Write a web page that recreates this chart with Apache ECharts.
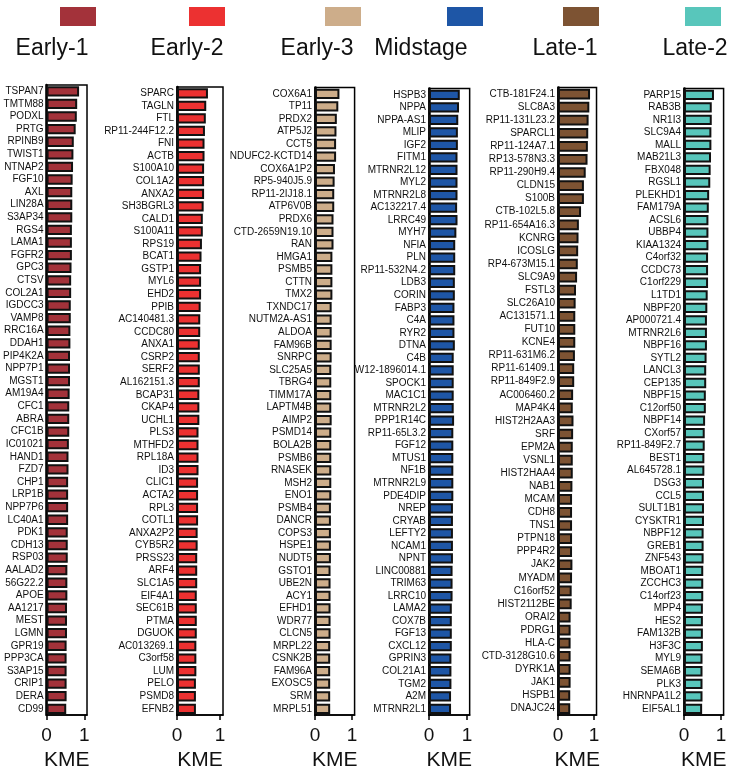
<!DOCTYPE html>
<html>
<head>
<meta charset="utf-8">
<script src="https://cdn.jsdelivr.net/npm/echarts@6/dist/echarts.min.js"></script>
<style>
  html, body { margin: 0; padding: 0; background: #fff; }
  #chart { width: 736px; height: 776px; }
</style>
</head>
<body>
<div id="chart"></div>
<script>
// Module names and colours
const modules = ['Early-1', 'Early-2', 'Early-3', 'Midstage', 'Late-1', 'Late-2'];
const moduleColors = ['#a3323a', '#ec3131', '#cdad8a', '#1e56a6', '#7d5333', '#58c6bb'];

// Hub genes per module (top to bottom) and their module membership (KME)
const early1Genes = ['TSPAN7','TMTM88','PODXL','PRTG','RPINB9','TWIST1','NTNAP2','FGF10','AXL','LIN28A','S3AP34','RGS4','LAMA1','FGFR2','GPC3','CTSV','COL2A1','IGDCC3','VAMP8','RRC16A','DDAH1','PIP4K2A','NPP7P1','MGST1','AM19A4','CFC1','ABRA','CFC1B','IC01021','HAND1','FZD7','CHP1','LRP1B','NPP7P6','LC40A1','PDK1','CDH13','RSP03','AALAD2','56G22.2','APOE','AA1217','MEST','LGMN','GPR19','PPP3CA','S3AP15','CRIP1','DERA','CD99'];
const early1KME = [0.86,0.81,0.80,0.77,0.72,0.71,0.70,0.69,0.68,0.68,0.68,0.67,0.67,0.67,0.66,0.65,0.65,0.64,0.64,0.63,0.63,0.62,0.62,0.62,0.61,0.60,0.60,0.60,0.59,0.58,0.58,0.57,0.57,0.57,0.57,0.56,0.56,0.56,0.55,0.55,0.55,0.54,0.54,0.54,0.53,0.53,0.53,0.53,0.53,0.52];

const early2Genes = ['SPARC','TAGLN','FTL','RP11-244F12.2','FNI','ACTB','S100A10','COL1A2','ANXA2','SH3BGRL3','CALD1','S100A11','RPS19','BCAT1','GSTP1','MYL6','EHD2','PPIB','AC140481.3','CCDC80','ANXA1','CSRP2','SERF2','AL162151.3','BCAP31','CKAP4','UCHL1','PLS3','MTHFD2','RPL18A','ID3','CLIC1','ACTA2','RPL3','COTL1','ANXA2P2','CYB5R2','PRSS23','ARF4','SLC1A5','EIF4A1','SEC61B','PTMA','DGUOK','AC013269.1','C3orf58','LUM','PELO','PSMD8','EFNB2'];
const early2KME = [0.72,0.68,0.67,0.65,0.64,0.64,0.63,0.63,0.63,0.62,0.60,0.60,0.58,0.57,0.56,0.56,0.56,0.55,0.54,0.54,0.53,0.53,0.53,0.53,0.52,0.52,0.52,0.50,0.50,0.50,0.50,0.49,0.49,0.49,0.49,0.48,0.48,0.47,0.47,0.47,0.46,0.46,0.46,0.46,0.45,0.45,0.45,0.44,0.44,0.44];

const early3Genes = ['COX6A1','TP11','PRDX2','ATP5J2','CCT5','NDUFC2-KCTD14','COX6A1P2','RP5-940J5.9','RP11-2IJ18.1','ATP6V0B','PRDX6','CTD-2659N19.10','RAN','HMGA1','PSMB5','CTTN','TMX2','TXNDC17','NUTM2A-AS1','ALDOA','FAM96B','SNRPC','SLC25A5','TBRG4','TIMM17A','LAPTM4B','AIMP2','PSMD14','BOLA2B','PSMB6','RNASEK','MSH2','ENO1','PSMB4','DANCR','COPS3','HSPE1','NUDT5','GSTO1','UBE2N','ACY1','EFHD1','WDR77','CLCN5','MRPL22','CSNK2B','FAM96A','EXOSC5','SRM','MRPL51'];
const early3KME = [0.66,0.63,0.59,0.58,0.57,0.57,0.54,0.53,0.52,0.52,0.50,0.50,0.50,0.47,0.47,0.47,0.47,0.45,0.45,0.45,0.45,0.45,0.44,0.44,0.44,0.44,0.45,0.44,0.44,0.44,0.44,0.44,0.44,0.43,0.43,0.43,0.43,0.43,0.42,0.42,0.42,0.42,0.42,0.42,0.41,0.41,0.41,0.41,0.41,0.41];

const midGenes = ['HSPB3','NPPA','NPPA-AS1','MLIP','IGF2','FITM1','MTRNR2L12','MYL2','MTRNR2L8','AC132217.4','LRRC49','MYH7','NFIA','PLN','RP11-532N4.2','LDB3','CORIN','FABP3','C4A','RYR2','DTNA','C4B','W12-1896014.1','SPOCK1','MAC1C1','MTRNR2L2','PPP1R14C','RP11-65L3.2','FGF12','MTUS1','NF1B','MTRNR2L9','PDE4DIP','NREP','CRYAB','LEFTY2','NCAM1','NPNT','LINC00881','TRIM63','LRRC10','LAMA2','COX7B','FGF13','CXCL12','GPRIN3','COL21A1','TGM2','A2M','MTRNR2L1'];
const midKME = [0.81,0.79,0.77,0.76,0.76,0.75,0.75,0.75,0.75,0.74,0.75,0.72,0.69,0.69,0.69,0.68,0.68,0.67,0.67,0.67,0.68,0.65,0.65,0.65,0.65,0.65,0.66,0.64,0.64,0.64,0.64,0.64,0.64,0.63,0.63,0.63,0.63,0.63,0.62,0.62,0.62,0.60,0.60,0.60,0.60,0.59,0.59,0.59,0.58,0.58];

const late1Genes = ['CTB-181F24.1','SLC8A3','RP11-131L23.2','SPARCL1','RP11-124A7.1','RP13-578N3.3','RP11-290H9.4','CLDN15','S100B','CTB-102L5.8','RP11-654A16.3','KCNRG','ICOSLG','RP4-673M15.1','SLC9A9','FSTL3','SLC26A10','AC131571.1','FUT10','KCNE4','RP11-631M6.2','RP11-61409.1','RP11-849F2.9','AC006460.2','MAP4K4','HIST2H2AA3','SRF','EPM2A','VSNL1','HIST2HAA4','NAB1','MCAM','CDH8','TNS1','PTPN18','PPP4R2','JAK2','MYADM','C16orf52','HIST2112BE','ORAI2','PDRG1','HLA-C','CTD-3128G10.6','DYRK1A','JAK1','HSPB1','DNAJC24'];
const late1KME = [0.89,0.87,0.85,0.84,0.83,0.82,0.77,0.72,0.72,0.64,0.58,0.57,0.56,0.55,0.53,0.50,0.49,0.48,0.48,0.48,0.47,0.45,0.45,0.42,0.41,0.43,0.42,0.41,0.41,0.41,0.40,0.39,0.39,0.39,0.39,0.39,0.40,0.39,0.38,0.38,0.35,0.35,0.35,0.35,0.35,0.35,0.34,0.34];

const late2Genes = ['PARP15','RAB3B','NR1I3','SLC9A4','MALL','MAB21L3','FBX048','RGSL1','PLEKHD1','FAM179A','ACSL6','UBBP4','KIAA1324','C4orf32','CCDC73','C1orf229','L1TD1','NBPF20','AP000721.4','MTRNR2L6','NBPF16','SYTL2','LANCL3','CEP135','NBPF15','C12orf50','NBPF14','CXorf57','RP11-849F2.7','BEST1','AL645728.1','DSG3','CCL5','SULT1B1','CYSKTR1','NBPF12','GREB1','ZNF543','MBOAT1','ZCCHC3','C14orf23','MPP4','HES2','FAM132B','H3F3C','MYL9','SEMA6B','PLK3','HNRNPA1L2','EIF5AL1'];
const late2KME = [0.81,0.75,0.75,0.74,0.74,0.73,0.72,0.71,0.68,0.67,0.66,0.66,0.66,0.65,0.65,0.65,0.64,0.63,0.62,0.62,0.62,0.61,0.60,0.60,0.59,0.59,0.57,0.56,0.56,0.55,0.55,0.54,0.54,0.54,0.54,0.53,0.53,0.53,0.52,0.52,0.52,0.51,0.51,0.51,0.51,0.50,0.50,0.50,0.50,0.49];

// KME axis ticks
const kmeTicks = [0, 1];
const kmeMax = 1.07;

const panels = [
  { genes: early1Genes, kme: early1KME },
  { genes: early2Genes, kme: early2KME },
  { genes: early3Genes, kme: early3KME },
  { genes: midGenes, kme: midKME },
  { genes: late1Genes, kme: late1KME },
  { genes: late2Genes, kme: late2KME }
];

// Panel boxes: left edge at KME = 0, pixel length of one KME unit, top and bottom of the box
const boxes = [
  { left: 41,  unit: 43, top: 85,  bottom: 722 },
  { left: 177, unit: 43, top: 87,  bottom: 722 },
  { left: 315, unit: 37, top: 87.5, bottom: 720 },
  { left: 429, unit: 38, top: 88.5, bottom: 722 },
  { left: 558, unit: 36, top: 87.5, bottom: 722.5 },
  { left: 684, unit: 37, top: 88.5, bottom: 720 }
];

// Legend swatches and module titles above each panel
const headers = [
  { sx: 60,  tx: 52 },
  { sx: 189, tx: 187 },
  { sx: 325, tx: 317 },
  { sx: 447, tx: 421 },
  { sx: 563, tx: 565 },
  { sx: 685, tx: 695 }
];

const labelFont = '"Liberation Sans", Arial, sans-serif';
const mainFont = '"Liberation Sans", Arial, sans-serif';

const grid = [], xAxis = [], yAxis = [], series = [], graphic = [];

panels.forEach((p, i) => {
  const b = boxes[i];
  grid.push({
    left: b.left,
    top: b.top,
    width: b.unit * kmeMax,
    height: b.bottom - b.top,
    show: true,
    borderColor: '#000',
    borderWidth: 1.5,
    containLabel: false
  });
  xAxis.push({
    gridIndex: i,
    type: 'value',
    min: 0,
    max: kmeMax,
    interval: 1,
    name: 'KME',
    nameLocation: 'middle',
    nameGap: 32,
    nameTextStyle: { fontSize: 21, color: '#111', fontFamily: mainFont },
    axisLine: { show: true, lineStyle: { color: '#000', width: 1.5 } },
    axisTick: { show: true, length: 5, lineStyle: { color: '#000', width: 1.5 }, customValues: kmeTicks },
    axisLabel: { fontSize: 19, color: '#111', fontFamily: mainFont, margin: 11, customValues: kmeTicks },
    splitLine: { show: false }
  });
  yAxis.push({
    gridIndex: i,
    type: 'category',
    inverse: true,
    data: p.genes,
    axisLine: { show: true, lineStyle: { color: '#000', width: 2.5 } },
    axisTick: { show: false },
    axisLabel: { fontSize: 10, color: '#111', fontFamily: labelFont, margin: 3, interval: 0 },
    splitLine: { show: false }
  });
  series.push({
    type: 'bar',
    name: modules[i],
    xAxisIndex: i,
    yAxisIndex: i,
    data: p.kme,
    barCategoryGap: '18%',
    itemStyle: { color: moduleColors[i], borderColor: '#111', borderWidth: 2 },
    silent: true,
    animation: false
  });
  const h = headers[i];
  graphic.push({
    type: 'rect',
    shape: { x: h.sx, y: 7, width: 36, height: 19 },
    style: { fill: moduleColors[i] }
  });
  graphic.push({
    type: 'text',
    x: h.tx,
    y: 49,
    style: {
      text: modules[i],
      fontSize: 23,
      fontFamily: mainFont,
      fill: '#111',
      align: 'center',
      verticalAlign: 'middle'
    }
  });
});

const chart = echarts.init(document.getElementById('chart'), null, { renderer: 'canvas' });
chart.setOption({
  animation: false,
  backgroundColor: '#fff',
  grid, xAxis, yAxis, series, graphic
});
</script>
</body>
</html>
